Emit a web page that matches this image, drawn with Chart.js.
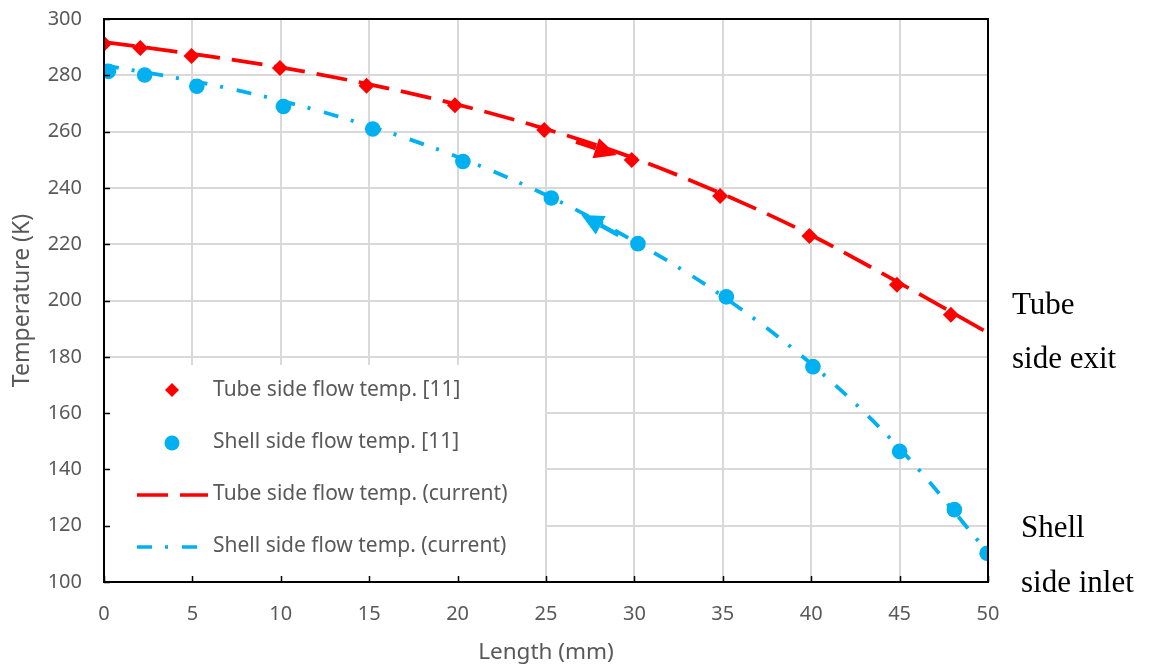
<!DOCTYPE html>
<html lang="en">
<head>
<meta charset="UTF-8">
<title>Tube / shell temperature</title>
<script src="https://cdn.jsdelivr.net/npm/chart.js"></script>
<style>
  html, body { margin: 0; padding: 0; background: #fff; }
  #wrap { width: 1154px; height: 666px; }
</style>
</head>
<body>
<div id="wrap"><canvas id="grafico" width="1154" height="666"></canvas></div>
<script>
// measured points from [11]
const tubeRefX = [0, 2.05, 4.95, 9.95, 14.85, 19.85, 24.9, 29.85, 34.85, 39.9, 44.85, 47.9];
const tubeRefY = [291.2, 289.7, 286.9, 282.6, 276.3, 269.4, 260.6, 249.9, 237.1, 222.9, 205.6, 194.9];
const shellRefX = [0.25, 2.3, 5.25, 10.15, 15.2, 20.3, 25.3, 30.2, 35.2, 40.1, 45.0, 48.1, 49.95];
const shellRefY = [281.4, 280.1, 276.1, 268.9, 260.9, 249.4, 236.4, 220.2, 201.3, 176.5, 146.4, 125.7, 110.2];

// current model
const curX = [0, 5, 10, 15, 20, 25, 30, 35, 40, 45, 50];
const tubeCurY = [291.8, 287.6, 282.8, 276.8, 269.6, 260.9, 250.5, 237.8, 223.2, 206.2, 188.5];
const shellCurY = [283.5, 278.0, 271.0, 262.0, 251.0, 237.5, 221.0, 201.5, 177.5, 147.5, 110.5];

// flow direction arrows: [tail, tip]
const tubeArrow = [{ x: 26.7, y: 256.4 }, { x: 29.0, y: 251.7 }];
const shellArrow = [{ x: 29.1, y: 223.3 }, { x: 27.0, y: 230.4 }];

const seriesNames = [
    'Tube side flow temp. [11]',
    'Shell side flow temp. [11]',
    'Tube side flow temp. (current)',
    'Shell side flow temp. (current)'
];

const xMin = 0, xMax = 50, xStep = 5;
const yMin = 100, yMax = 300, yStep = 20;

const RED = '#ff0000';
const BLUE = '#00b0f0';
const GREY = '#595959';
const FONT = "'Noto Sans', 'Open Sans', sans-serif";

function puntos(xs, ys) {
    return xs.map((x, i) => ({ x: x, y: ys[i] }));
}

// frame, inward ticks and right-hand notes
const marco = {
    id: 'marco',
    afterDraw(chart) {
        const ctx = chart.ctx;
        const a = chart.chartArea;
        const sx = chart.scales.x, sy = chart.scales.y;
        ctx.save();
        ctx.strokeStyle = '#000';
        ctx.lineWidth = 1.5;
        sy.ticks.forEach(t => {
            const py = Math.round(sy.getPixelForValue(t.value)) + 0.5;
            ctx.beginPath(); ctx.moveTo(a.left, py); ctx.lineTo(a.left + 6, py); ctx.stroke();
        });
        sx.ticks.forEach(t => {
            const px = Math.round(sx.getPixelForValue(t.value)) + 0.5;
            ctx.beginPath(); ctx.moveTo(px, a.bottom); ctx.lineTo(px, a.bottom - 6); ctx.stroke();
        });
        ctx.lineWidth = 2;
        ctx.strokeRect(a.left, a.top, a.right - a.left, a.bottom - a.top);

        ctx.fillStyle = '#000';
        ctx.font = "31px 'Liberation Serif', 'Times New Roman', serif";
        ctx.textAlign = 'left';
        ctx.textBaseline = 'alphabetic';
        ctx.fillText('Tube', 1012, 314);
        ctx.fillText('side exit', 1012, 368);
        ctx.fillText('Shell', 1021, 537);
        ctx.fillText('side inlet', 1021, 592);
        ctx.restore();
    }
};

function flecha(ctx, sx, sy, par, color) {
    const x0 = sx.getPixelForValue(par[0].x), y0 = sy.getPixelForValue(par[0].y);
    const x1 = sx.getPixelForValue(par[1].x), y1 = sy.getPixelForValue(par[1].y);
    const ang = Math.atan2(y1 - y0, x1 - x0);
    const largo = 22, ancho = 10.5;
    const bx = x1 - Math.cos(ang) * largo, by = y1 - Math.sin(ang) * largo;
    ctx.strokeStyle = color;
    ctx.fillStyle = color;
    ctx.lineWidth = 4.5;
    ctx.beginPath(); ctx.moveTo(x0, y0); ctx.lineTo(bx, by); ctx.stroke();
    ctx.beginPath();
    ctx.moveTo(x1, y1);
    ctx.lineTo(bx + Math.sin(ang) * ancho, by - Math.cos(ang) * ancho);
    ctx.lineTo(bx - Math.sin(ang) * ancho, by + Math.cos(ang) * ancho);
    ctx.closePath();
    ctx.fill();
}

const flechas = {
    id: 'flechas',
    afterDatasetsDraw(chart) {
        const ctx = chart.ctx;
        ctx.save();
        flecha(ctx, chart.scales.x, chart.scales.y, tubeArrow, RED);
        flecha(ctx, chart.scales.x, chart.scales.y, shellArrow, BLUE);
        ctx.restore();
    }
};

// legend box inside the plot, lower left
const leyenda = {
    id: 'leyenda',
    beforeDatasetsDraw(chart) {
        const ctx = chart.ctx;
        const a = chart.chartArea;
        const ds = chart.data.datasets;
        ctx.save();
        ctx.fillStyle = '#fff';
        ctx.fillRect(a.left + 1, 365, 544 - a.left, a.bottom - 366);

        const filas = [390, 442, 494, 546];
        ctx.font = '21px ' + FONT;
        ctx.textBaseline = 'middle';
        ctx.textAlign = 'left';
        filas.forEach((fy, i) => {
            const d = ds[i];
            if (d.showLine) {
                ctx.strokeStyle = d.borderColor;
                ctx.lineWidth = 3.5;
                ctx.setLineDash(d.borderDash);
                ctx.beginPath(); ctx.moveTo(137, fy + 1); ctx.lineTo(208, fy + 1); ctx.stroke();
                ctx.setLineDash([]);
            } else {
                ctx.fillStyle = d.pointBackgroundColor;
                ctx.beginPath();
                if (d.pointStyle === 'rectRot') {
                    const r = 7;
                    ctx.moveTo(172, fy - r); ctx.lineTo(172 + r, fy);
                    ctx.lineTo(172, fy + r); ctx.lineTo(172 - r, fy);
                    ctx.closePath();
                } else {
                    ctx.arc(172, fy + 1, 7.5, 0, Math.PI * 2);
                }
                ctx.fill();
            }
            ctx.fillStyle = GREY;
            ctx.fillText(d.label, 213, fy);
        });
        ctx.restore();
    }
};

const ctx = document.getElementById('grafico').getContext('2d');
new Chart(ctx, {
    type: 'scatter',
    data: {
        datasets: [{
            label: seriesNames[0],
            data: puntos(tubeRefX, tubeRefY),
            showLine: false,
            pointStyle: 'rectRot',
            pointRadius: 8,
            pointBackgroundColor: RED,
            pointBorderWidth: 0,
            borderColor: RED,
            order: 2
        }, {
            label: seriesNames[1],
            data: puntos(shellRefX, shellRefY),
            showLine: false,
            pointStyle: 'circle',
            pointRadius: 7.8,
            pointBackgroundColor: BLUE,
            pointBorderWidth: 0,
            borderColor: BLUE,
            order: 2
        }, {
            label: seriesNames[2],
            data: puntos(curX, tubeCurY),
            showLine: true,
            borderColor: RED,
            borderWidth: 3.8,
            borderDash: [31, 12],
            cubicInterpolationMode: 'monotone',
            pointRadius: 0,
            order: 1
        }, {
            label: seriesNames[3],
            data: puntos(curX, shellCurY),
            showLine: true,
            borderColor: BLUE,
            borderWidth: 3.8,
            borderDash: [15, 13, 3, 14],
            cubicInterpolationMode: 'monotone',
            pointRadius: 0,
            order: 1
        }]
    },
    options: {
        responsive: false,
        animation: false,
        layout: { padding: { left: 0, top: 19, right: 166, bottom: 0 } },
        plugins: {
            legend: { display: false },
            tooltip: { enabled: false }
        },
        scales: {
            x: {
                type: 'linear',
                min: xMin, max: xMax,
                afterFit(s) { s.height = 84; s.paddingLeft = 0; s.paddingRight = 0; },
                ticks: { stepSize: xStep, padding: 20, color: GREY, font: { family: FONT, size: 20 } },
                grid: { color: '#d9d9d9', lineWidth: 2, drawTicks: false },
                border: { display: false },
                title: { display: true, text: 'Length (mm)', color: GREY, padding: { top: 0, bottom: 0 }, font: { family: FONT, size: 22.5 } }
            },
            y: {
                min: yMin, max: yMax,
                afterFit(s) { s.width = 104; s.paddingTop = 0; s.paddingBottom = 0; },
                ticks: { stepSize: yStep, padding: 22, color: GREY, font: { family: FONT, size: 20 } },
                grid: { color: '#d9d9d9', lineWidth: 2, drawTicks: false },
                border: { display: false },
                title: { display: true, text: 'Temperature (K)', color: GREY, padding: { top: 9, bottom: 0 }, font: { family: FONT, size: 23 } }
            }
        }
    },
    plugins: [leyenda, flechas, marco]
});
</script>
</body>
</html>
